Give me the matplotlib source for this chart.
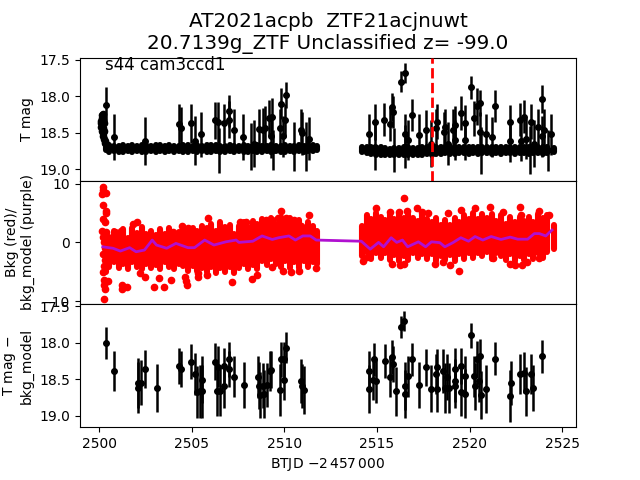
"""
Three stacked panels of a TESS light curve: magnitude, background, detrended magnitude.
The dense bands are kept as per-time low/high ranges read off the picture.
"""
import matplotlib
matplotlib.use('Agg')
import matplotlib.pyplot as plt

# dense part of the light curve, one range per time step
band_time = [2500.35, 2500.55, 2500.8, 2501.05, 2501.3, 2501.55, 2501.8, 2502.05, 2502.3, 2502.55, 2502.8,
             2503.05, 2503.3, 2503.55, 2503.8, 2504.05, 2504.3, 2504.55, 2504.8, 2505.05, 2505.3,
             2505.55, 2505.8, 2506.05, 2506.3, 2506.55, 2506.8, 2507.05, 2507.3, 2507.55, 2507.8,
             2508.05, 2508.3, 2508.55, 2508.8, 2509.05, 2509.3, 2509.55, 2509.8, 2510.05, 2510.3,
             2510.55, 2510.8, 2511.05, 2511.3, 2511.55, 2511.75,
             2514.2, 2514.45, 2514.7, 2514.95, 2515.2, 2515.45, 2515.7, 2515.95, 2516.2, 2516.45,
             2516.7, 2516.95, 2517.2, 2517.45, 2517.7, 2517.95, 2518.2, 2518.45, 2518.7, 2518.95,
             2519.2, 2519.45, 2519.7, 2519.95, 2520.2, 2520.45, 2520.7, 2520.95, 2521.2, 2521.45,
             2521.7, 2521.95, 2522.2, 2522.45, 2522.7, 2522.95, 2523.2, 2523.45, 2523.7, 2523.95,
             2524.2, 2524.55]
mag_high = [18.68, 18.67, 18.68, 18.68, 18.67, 18.68, 18.67, 18.68, 18.67, 18.67, 18.68,
            18.67, 18.67, 18.68, 18.67, 18.68, 18.68, 18.67, 18.67, 18.68, 18.67,
            18.68, 18.67, 18.67, 18.67, 18.68, 18.68, 18.67, 18.68, 18.68, 18.67,
            18.68, 18.68, 18.67, 18.68, 18.68, 18.67, 18.68, 18.68, 18.67, 18.68,
            18.68, 18.67, 18.68, 18.67, 18.67, 18.68,
            18.70, 18.69, 18.70, 18.71, 18.70, 18.71, 18.72, 18.71, 18.71, 18.70,
            18.70, 18.71, 18.71, 18.70, 18.70, 18.70, 18.69, 18.70, 18.70, 18.69,
            18.69, 18.70, 18.69, 18.70, 18.69, 18.69, 18.70, 18.69, 18.69, 18.70,
            18.69, 18.70, 18.70, 18.69, 18.69, 18.70, 18.69, 18.69, 18.70, 18.69,
            18.69, 18.71]
mag_low = [18.74, 18.76, 18.75, 18.76, 18.76, 18.75, 18.76, 18.75, 18.76, 18.76, 18.75,
           18.76, 18.75, 18.76, 18.75, 18.76, 18.75, 18.76, 18.76, 18.75, 18.76,
           18.75, 18.76, 18.76, 18.75, 18.76, 18.76, 18.75, 18.76, 18.75, 18.76,
           18.76, 18.75, 18.76, 18.76, 18.75, 18.76, 18.75, 18.76, 18.76, 18.75,
           18.76, 18.75, 18.76, 18.75, 18.75, 18.74,
           18.77, 18.78, 18.79, 18.80, 18.80, 18.81, 18.81, 18.81, 18.81, 18.80,
           18.80, 18.80, 18.80, 18.80, 18.79, 18.80, 18.79, 18.79, 18.78, 18.79,
           18.79, 18.78, 18.78, 18.79, 18.78, 18.79, 18.78, 18.78, 18.79, 18.78,
           18.79, 18.78, 18.78, 18.79, 18.78, 18.78, 18.79, 18.78, 18.78, 18.79,
           18.78, 18.76]
bkg_high = [1.8, 1.0, 2.0, 1.2, 2.2, 0.8, 2.4, 1.6, 2.6, 1.4, 2.0,
            1.2, 2.2, 1.4, 2.4, 1.0, 1.8, 2.6, 1.6, 2.4, 2.0,
            2.8, 2.4, 3.2, 2.0, 3.4, 2.6, 2.9, 1.4, 2.8, 3.4,
            2.6, 3.6, 3.2, 4.0, 3.4, 4.2, 3.2, 4.4, 3.6, 4.2,
            3.4, 3.8, 2.4, 3.4, 2.8, 2.0,
            2.8, 4.6, 4.0, 5.0, 4.4, 3.8, 4.8, 4.0, 5.0, 4.2,
            4.8, 4.2, 3.6, 4.8, 4.0, 3.4, 4.2, 3.0, 3.8, 3.0,
            4.2, 3.4, 4.6, 4.0, 5.0, 4.0, 4.8, 4.2, 4.8, 3.6,
            4.6, 3.2, 4.4, 3.4, 4.4, 3.6, 4.4, 3.4, 4.8, 4.2,
            4.6, 3.0]
bkg_low = [-5.0, -4.2, -3.4, -4.4, -3.6, -4.6, -3.4, -4.2, -4.6, -3.6, -4.4,
           -3.8, -4.6, -3.4, -4.2, -4.6, -3.6, -4.0, -4.8, -4.0, -4.8,
           -4.4, -5.0, -4.2, -5.2, -4.4, -5.0, -4.2, -5.2, -4.4, -3.6,
           -4.6, -3.8, -4.6, -3.2, -3.8, -2.8, -3.6, -4.2, -3.2, -4.4,
           -3.4, -4.4, -3.2, -4.2, -3.4, -3.6,
           -2.4, -1.6, -2.8, -1.8, -2.6, -1.8, -3.0, -2.2, -3.2, -2.4,
           -3.0, -1.8, -2.6, -2.0, -2.8, -2.0, -3.2, -2.4, -3.0, -2.2,
           -3.2, -2.0, -2.8, -1.8, -2.6, -1.8, -2.4, -1.6, -2.8, -1.8,
           -2.4, -3.0, -2.0, -3.2, -2.4, -3.0, -2.0, -2.8, -1.8, -2.6,
           -1.6, -1.2]

# start of the light curve, where it drops steeply
ramp_time = [2500.17, 2500.22, 2500.15, 2500.1, 2500.13, 2500.2, 2500.25, 2500.12, 2500.2, 2500.15,
             2500.22, 2500.28, 2500.2, 2500.25, 2500.32, 2500.3, 2500.4, 2500.5]
ramp_mag = [18.26, 18.24, 18.30, 18.34, 18.37, 18.32, 18.37, 18.42, 18.44, 18.48,
            18.50, 18.48, 18.55, 18.58, 18.61, 18.64, 18.66, 18.68]

# points with long error bars in the top panel
top_time = [2500.36, 2500.79, 2502.46, 2504.34, 2504.43, 2504.95, 2505.2, 2505.52, 2506.27, 2506.42,
            2506.45, 2506.76, 2506.99, 2506.99, 2507.31, 2507.78, 2508.2, 2508.37, 2508.64, 2508.85,
            2508.96, 2509.18, 2509.27, 2509.35, 2509.39, 2509.8, 2509.78, 2509.93, 2510.02, 2510.11,
            2510.52, 2510.88, 2510.97, 2511.15, 2511.33,
            2514.55, 2514.91, 2514.91, 2515.41, 2515.72, 2515.8, 2515.89, 2515.95, 2516.31, 2516.52,
            2516.52, 2516.52, 2516.7, 2516.88, 2517.25, 2517.63, 2517.9, 2518.18, 2518.27, 2518.6,
            2518.7, 2518.85, 2519.11, 2519.24, 2519.24, 2519.56, 2519.78, 2519.78, 2520.1, 2520.24,
            2520.38, 2520.55, 2520.55, 2520.63, 2520.9, 2521.22, 2521.39, 2522.19, 2522.16, 2522.73,
            2522.78, 2522.93, 2523.05, 2523.27, 2523.32, 2523.5, 2523.68, 2523.91, 2523.89, 2524.03,
            2524.25, 2524.39]
top_mag = [18.12, 18.56, 18.61, 18.38, 18.43, 18.37, 18.61, 18.52, 18.33, 18.36,
           18.74, 18.37, 18.20, 18.32, 18.46, 18.56, 18.69, 18.65, 18.45, 18.46,
           18.44, 18.30, 18.55, 18.28, 18.74, 18.10, 18.44, 18.55, 18.33, 17.98,
           18.69, 18.46, 18.51, 18.69, 18.58,
           18.52, 18.69, 18.35, 18.32, 18.38, 18.15, 18.21, 18.74, 17.80, 17.68,
           18.52, 18.69, 18.60, 18.26, 18.53, 18.46, 18.65, 18.44, 18.35, 18.49,
           18.42, 18.65, 18.46, 18.39, 18.60, 18.23, 18.37, 18.60, 17.88, 18.30,
           18.14, 18.09, 18.49, 18.74, 18.52, 18.56, 18.13, 18.35, 18.62, 18.32,
           18.61, 18.28, 18.58, 18.74, 18.35, 18.65, 18.42, 18.04, 18.55, 18.46,
           18.74, 18.52]
top_err = [0.25, 0.32, 0.33, 0.27, 0.28, 0.27, 0.34, 0.31, 0.25, 0.28,
           0.31, 0.27, 0.22, 0.25, 0.28, 0.31, 0.32, 0.32, 0.28, 0.30,
           0.30, 0.25, 0.30, 0.25, 0.27, 0.21, 0.27, 0.28, 0.23, 0.18,
           0.33, 0.28, 0.30, 0.33, 0.30,
           0.28, 0.32, 0.25, 0.23, 0.23, 0.19, 0.22, 0.30, 0.14, 0.14,
           0.28, 0.30, 0.28, 0.22, 0.28, 0.27, 0.32, 0.27, 0.24, 0.27,
           0.25, 0.30, 0.28, 0.25, 0.28, 0.24, 0.25, 0.28, 0.16, 0.24,
           0.25, 0.18, 0.28, 0.32, 0.28, 0.28, 0.22, 0.23, 0.28, 0.23,
           0.28, 0.23, 0.28, 0.33, 0.24, 0.32, 0.25, 0.19, 0.28, 0.28,
           0.28, 0.28]

# detrended points, bottom panel
det_time = [2500.36, 2500.79, 2502.08, 2502.08, 2502.24, 2502.46, 2503.12, 2504.34, 2504.41, 2504.95,
            2505.2, 2505.27, 2505.43, 2505.56, 2505.57, 2506.27, 2506.34, 2506.42, 2506.52, 2506.76,
            2506.77, 2506.99, 2507.0, 2507.31, 2507.8, 2508.58, 2508.64, 2508.69, 2508.85, 2508.92,
            2509.05, 2509.21, 2509.3, 2509.78, 2509.8, 2510.0, 2510.0, 2510.11, 2510.9, 2510.97,
            2511.04,
            2514.55, 2514.55, 2514.79, 2514.87, 2514.96, 2515.43, 2515.72, 2515.8, 2515.89, 2516.02,
            2516.31, 2516.48, 2516.52, 2516.52, 2516.7, 2516.88, 2517.25, 2517.63, 2517.9, 2518.18,
            2518.24, 2518.27, 2518.56, 2518.67, 2518.76, 2518.88, 2519.2, 2519.24, 2519.2, 2519.53,
            2519.53, 2519.78, 2519.78, 2520.1, 2520.24, 2520.3, 2520.38, 2520.55, 2520.5, 2520.63,
            2520.9, 2521.39, 2522.19, 2522.25, 2522.73, 2522.93, 2523.05, 2523.32, 2523.44, 2523.91]
det_mag = [18.00, 18.39, 18.55, 18.62, 18.55, 18.36, 18.62, 18.32, 18.36, 18.26,
           18.43, 18.68, 18.67, 18.51, 18.67, 18.26, 18.66, 18.33, 18.66, 18.59,
           18.32, 18.23, 18.36, 18.47, 18.58, 18.47, 18.59, 18.72, 18.59, 18.70,
           18.58, 18.39, 18.37, 18.65, 18.23, 18.23, 18.51, 18.07, 18.53, 18.59,
           18.65,
           18.39, 18.63, 18.51, 18.23, 18.53, 18.25, 18.47, 18.20, 18.29, 18.67,
           17.78, 17.70, 18.70, 18.59, 18.46, 18.23, 18.58, 18.34, 18.63, 18.43,
           18.63, 18.34, 18.39, 18.62, 18.47, 18.62, 18.36, 18.52, 18.59, 18.32,
           18.68, 18.46, 18.70, 17.90, 18.46, 18.60, 18.23, 18.18, 18.52, 18.72,
           18.63, 18.22, 18.73, 18.55, 18.43, 18.41, 18.67, 18.43, 18.62, 18.19]
det_err = [0.22, 0.27, 0.34, 0.35, 0.31, 0.26, 0.33, 0.25, 0.25, 0.24,
           0.29, 0.36, 0.36, 0.32, 0.37, 0.25, 0.34, 0.28, 0.34, 0.31,
           0.25, 0.24, 0.25, 0.28, 0.31, 0.29, 0.32, 0.32, 0.31, 0.33,
           0.30, 0.27, 0.25, 0.36, 0.24, 0.24, 0.28, 0.21, 0.30, 0.30,
           0.33,
           0.27, 0.33, 0.28, 0.23, 0.30, 0.23, 0.28, 0.23, 0.25, 0.33,
           0.15, 0.14, 0.33, 0.33, 0.28, 0.23, 0.31, 0.25, 0.32, 0.28,
           0.32, 0.25, 0.30, 0.34, 0.32, 0.34, 0.28, 0.30, 0.30, 0.25,
           0.33, 0.28, 0.34, 0.17, 0.28, 0.32, 0.25, 0.23, 0.30, 0.33,
           0.33, 0.23, 0.36, 0.30, 0.27, 0.28, 0.34, 0.27, 0.32, 0.22]

# background scatter outside the dense range
bkg_time = [2500.22, 2500.22, 2500.18, 2500.39, 2500.22, 2500.39, 2500.39, 2500.22, 2500.3, 2500.18,
            2500.39, 2500.25, 2500.3, 2500.25, 2500.48, 2500.25, 2501.24, 2501.24, 2501.5, 2502.99,
            2503.5, 2504.66, 2504.73, 2504.7, 2505.32, 2505.32, 2505.8, 2503.26, 2503.9, 2507.17,
            2508.28, 2508.55, 2502.47, 2502.19, 2501.83, 2502.04, 2500.84, 2501.2, 2505.86, 2504.78,
            2504.48, 2503.98, 2507.6, 2507.92, 2509.0, 2509.32, 2509.84, 2509.68, 2510.07, 2510.52,
            2510.88, 2511.33, 2511.24, 2509.35, 2509.93, 2510.38, 2510.8, 2511.72,
            2500.2, 2500.25, 2500.3, 2500.2, 2500.3, 2500.25, 2500.2, 2500.3,
            2516.48, 2517.15, 2514.95, 2515.72, 2516.2, 2516.6, 2517.42, 2517.74, 2518.85, 2519.56,
            2520.28, 2521.12, 2521.8, 2522.73, 2522.78, 2523.77, 2524.3, 2519.45, 2514.23, 2514.46,
            2515.8, 2516.25, 2516.48, 2518.13, 2518.58, 2518.94, 2521.26, 2522.16, 2522.46, 2522.82,
            2523.1, 2523.77]
bkg_val = [9.5, 8.9, 8.3, 8.4, 6.3, 5.4, 5.0, 4.0, 3.4, 1.9,
           1.7, -9.6, -7.9, -7.3, -6.6, -6.4, -7.3, -8.0, -7.6, -7.6,
           -7.6, -5.9, -7.3, -6.6, -5.3, -5.9, -5.5, -6.0, -6.4, -6.7,
           -6.3, -5.6, -5.9, -5.3, 3.1, 3.5, 1.7, 2.0, 4.1, 2.4,
           2.8, 1.8, 3.4, 3.5, 3.8, 3.8, 5.4, 4.1, 4.2, 3.8,
           2.8, 4.7, 2.7, -4.2, -4.9, -5.0, -4.9, -4.4,
           1.0, 0.0, -1.0, -2.0, -3.0, -4.0, -5.0, 0.5,
           7.5, 5.8, 5.8, 5.2, 5.2, 5.4, 5.1, 5.0, 5.0, 5.5,
           5.9, 6.1, 5.2, 6.1, 4.7, 5.4, 4.7, -4.8, -3.2, -2.5,
           -3.6, -3.8, -3.6, -3.6, -3.3, -3.8, -2.7, -3.6, -3.8, -3.8,
           -3.4, -2.7]

# background model, purple line
model_time = [2500.2, 2500.4, 2500.75, 2501.15, 2501.65, 2502.0, 2502.45, 2502.87, 2503.1, 2503.65,
              2504.15, 2504.8, 2505.15, 2505.7, 2506.2, 2506.85, 2507.4, 2507.55, 2508.3, 2508.8,
              2509.35, 2509.7, 2510.25, 2510.6, 2511.0, 2511.4, 2511.72,
              2514.16, 2514.64, 2515.09, 2515.36, 2515.77, 2516.07, 2516.38, 2516.66, 2517.24, 2517.63,
              2517.95, 2518.4, 2518.67, 2519.1, 2519.53, 2519.95, 2520.3, 2520.72, 2521.17, 2521.7,
              2522.2, 2522.6, 2523.14, 2523.5, 2523.77, 2524.12, 2524.45]
model_val = [-0.75, -0.85, -1.0, -1.48, -0.9, -1.6, -1.3, 0.4, -0.45, -1.0,
             -0.17, -0.9, -0.9, 0.4, -0.45, 0.1, 0.4, 0.0, 0.2, 1.1,
             0.5, 0.8, 1.1, 0.4, 1.1, 1.1, 0.4,
             0.2, -1.15, 0.0, -0.75, 0.8, 0.0, 0.4, -0.75, 0.1, -0.75,
             0.1, -0.05, -0.75, -0.05, 0.8, 0.2, 1.0, 0.4, 1.0, 0.5,
             0.9, 0.55, 0.55, 1.5, 1.5, 1.1, 2.1]

event_time = 2518.0
mag_ticks = [17.5, 18.0, 18.5, 19.0]
bkg_ticks = [-10, 0, 10]
x_ticks = [2500, 2505, 2510, 2515, 2520, 2525]

fig, (ax1, ax2, ax3) = plt.subplots(3, 1, sharex=True, figsize=(6.4, 4.8), dpi=100)
fig.subplots_adjust(hspace=0)

# top panel
ax1.set_title('AT2021acpb  ZTF21acjnuwt\n20.7139g_ZTF Unclassified z= -99.0', fontsize=14.4)
ax1.vlines(band_time, mag_high, mag_low, color='k', lw=4.4, capstyle='round')
ax1.plot(ramp_time, ramp_mag, 'k.', ms=9)
ax1.errorbar(top_time, top_mag, yerr=top_err, fmt='k.', ms=8, elinewidth=1.8)
ax1.axvline(event_time, color='r', ls='--', lw=2, zorder=5)
ax1.set_ylim(19.16, 17.47)
ax1.set_yticks(mag_ticks)
ax1.set_ylabel('T mag')
ax1.text(0.05, 0.9, 's44 cam3ccd1', fontsize=12, transform=ax1.transAxes)

# middle panel
ax2.vlines(band_time, bkg_low, bkg_high, color='r', lw=4.4, capstyle='round')
ax2.plot(bkg_time, bkg_val, 'r.', ms=9)
ax2.plot(model_time, model_val, color='#b010d0', lw=2)
ax2.set_ylim(-10.5, 10.5)
ax2.set_yticks(bkg_ticks)
ax2.set_ylabel('Bkg (red)/\nbkg_model (purple)')

# bottom panel
ax3.errorbar(det_time, det_mag, yerr=det_err, fmt='k.', ms=8, elinewidth=1.8)
ax3.set_ylim(19.16, 17.47)
ax3.set_yticks(mag_ticks)
ax3.set_ylabel('T mag $-$\nbkg_model')
ax3.set_xlabel(r'BTJD $-2\,457\,000$')
ax3.set_xticks(x_ticks)
ax3.set_xlim(2498.97, 2525.75)

ax1.tick_params(bottom=False)
ax2.tick_params(bottom=False)

fig.savefig('out.png', dpi=100)
